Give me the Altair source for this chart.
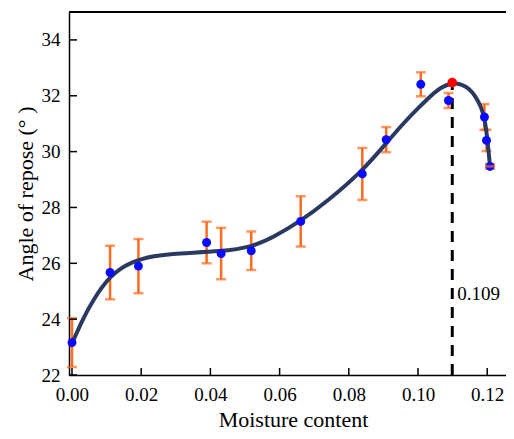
import altair as alt
import pandas as pd

# measured points
moisture = [0.0, 0.011, 0.0192, 0.0389, 0.0431, 0.0518, 0.0661, 0.0839, 0.0908, 0.1008, 0.1088, 0.1192, 0.1198, 0.1208]
angle = [23.16, 25.67, 25.9, 26.745, 26.35, 26.45, 27.5, 29.2, 30.43, 32.41, 31.83, 31.24, 30.4, 29.47]
err = [0.875, 0.96, 0.97, 0.745, 0.92, 0.69, 0.9, 0.93, 0.45, 0.43, 0.27, 0.46, 0.38, 0.08]

# fitted curve
curve_x = [0.0, 0.003, 0.0058, 0.011, 0.0171, 0.0237, 0.0304, 0.0431, 0.052, 0.0586, 0.0659,
           0.0736, 0.0839, 0.0908, 0.096, 0.1008, 0.1037, 0.1065, 0.1099, 0.1125, 0.1149,
           0.1165, 0.1182, 0.1192, 0.12, 0.1208]
curve_y = [23.13, 23.97, 24.63, 25.58, 26.06, 26.27, 26.36, 26.42, 26.58, 26.96, 27.5,
           28.2, 29.3, 30.3, 31.05, 31.65, 32.0, 32.3, 32.47, 32.42, 32.25,
           32.0, 31.62, 31.22, 30.54, 29.47]

peak_x = [0.1099]
peak_y = [32.47]
peak_label = ["0.109"]
label_y = [24.9]

x_ticks = [0.0, 0.02, 0.04, 0.06, 0.08, 0.10, 0.12]
y_ticks = [22, 24, 26, 28, 30, 32, 34]

W, H = 437, 363
FONT = "Liberation Serif"

pts = pd.DataFrame({"x": moisture, "y": angle, "lo": [a - e for a, e in zip(angle, err)],
                    "hi": [a + e for a, e in zip(angle, err)]})
curve = pd.DataFrame({"x": curve_x, "y": curve_y})
peak = pd.DataFrame({"x": peak_x, "y": peak_y, "base": [22], "t": peak_label, "ly": label_y})
xt = pd.DataFrame({"v": x_ticks})
yt = pd.DataFrame({"v": y_ticks})

xs = alt.Scale(domain=[-0.000867, 0.12543], nice=False, zero=False)
ys = alt.Scale(domain=[22, 35], nice=False, zero=False)

xaxis = alt.Axis(values=x_ticks, format=".2f", title="Moisture content", tickSize=0,
                 labelPadding=25, labelBaseline="alphabetic", labelFontSize=19,
                 labelFont=FONT, labelColor="black", titleFont=FONT, titleFontSize=22,
                 titleFontWeight="normal", titleColor="black", titleY=51, titleX=224,
                 titleBaseline="alphabetic", domainColor="black", domainWidth=1.5,
                 grid=False, labelFlush=False)
yaxis = alt.Axis(values=y_ticks, format="d", title="Angle of repose (° )", tickSize=0,
                 labelPadding=9, labelFontSize=19, labelFont=FONT, labelColor="black",
                 titleFont=FONT, titleFontSize=22, titleFontWeight="normal",
                 titleColor="black", titleX=-44, titleY=181.5, titleAngle=270,
                 titleBaseline="middle", titleAlign="center", domainColor="black",
                 domainWidth=1.5, grid=False)

ORANGE = "#ff6b1f"

bars = alt.Chart(pts).mark_rule(color=ORANGE, strokeWidth=2.5).encode(
    x=alt.X("x:Q", scale=xs, axis=xaxis), y=alt.Y("lo:Q", scale=ys, axis=yaxis), y2="hi:Q")
cap_lo = alt.Chart(pts).mark_tick(color=ORANGE, orient="horizontal", size=10, thickness=2.5).encode(
    x=alt.X("x:Q", scale=xs), y=alt.Y("lo:Q", scale=ys))
cap_hi = alt.Chart(pts).mark_tick(color=ORANGE, orient="horizontal", size=10, thickness=2.5).encode(
    x=alt.X("x:Q", scale=xs), y=alt.Y("hi:Q", scale=ys))

line = alt.Chart(curve).mark_line(color="#2b3960", strokeWidth=4, interpolate="basis").encode(
    x=alt.X("x:Q", scale=xs), y=alt.Y("y:Q", scale=ys))

dash = alt.Chart(peak).mark_rule(color="black", strokeWidth=3, strokeDash=[11, 8]).encode(
    x=alt.X("x:Q", scale=xs), y=alt.Y("base:Q", scale=ys), y2="y:Q")

dots = alt.Chart(pts).mark_circle(color="#0a0aff", size=80, opacity=1).encode(
    x=alt.X("x:Q", scale=xs), y=alt.Y("y:Q", scale=ys))

red = alt.Chart(peak).mark_circle(color="#ff0000", size=95, opacity=1).encode(
    x=alt.X("x:Q", scale=xs), y=alt.Y("y:Q", scale=ys))

last_bar = alt.Chart(pts.tail(1)).mark_tick(color=ORANGE, orient="horizontal", size=10, thickness=2.5).encode(
    x=alt.X("x:Q", scale=xs), y=alt.Y("y:Q", scale=ys))

txt = alt.Chart(peak).mark_text(align="left", baseline="middle", dx=5, font=FONT,
                                fontSize=19, color="black").encode(
    x=alt.X("x:Q", scale=xs), y=alt.Y("ly:Q", scale=ys), text="t:N")

yticks = alt.Chart(yt).mark_rule(color="black", strokeWidth=1.5).encode(
    y=alt.Y("v:Q", scale=ys), x=alt.value(0), x2=alt.value(8))
xticks = alt.Chart(xt).mark_rule(color="black", strokeWidth=1.5).encode(
    x=alt.X("v:Q", scale=xs), y=alt.value(H), y2=alt.value(H - 7))
top = alt.Chart(xt).mark_rule(color="black", strokeWidth=1.5).encode(
    x=alt.value(0), x2=alt.value(W), y=alt.value(0))

chart = alt.layer(bars, cap_lo, cap_hi, line, dash, dots, red, last_bar, txt,
                  yticks, xticks, top).properties(
    width=W, height=H,
    padding={"left": 61, "top": 4, "right": 0, "bottom": 56},
    autosize=alt.AutoSizeParams(type="none"),
    background="white",
).configure_view(stroke=None)

chart.save("out.html", embed_options={"renderer": "svg", "actions": False})
